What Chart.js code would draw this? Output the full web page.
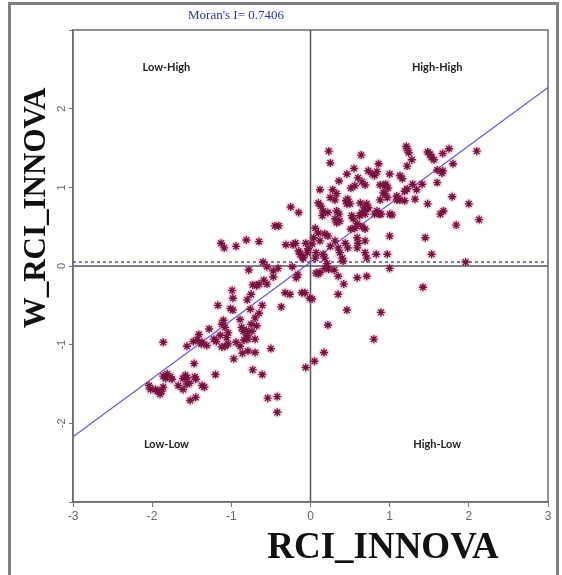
<!DOCTYPE html>
<html>
<head>
<meta charset="utf-8">
<script src="https://cdn.jsdelivr.net/npm/chart.js@4"></script>
<style>
html, body { margin: 0; padding: 0; background: #fff; }
#wrap { width: 562px; height: 575px; }
</style>
</head>
<body>
<div id="wrap"><canvas id="chart" width="562" height="575"></canvas></div>
<script>
// Moran scatter: RCI_INNOVA (x) vs spatial lag W_RCI_INNOVA (y), split by quadrant
const lowHigh = [
  [-0.25,0.75],[-0.15,0.68],[-0.45,0.51],[-0.40,0.51],[-1.13,0.29],[-1.09,0.23],[-0.94,0.25],
  [-0.81,0.33],[-0.65,0.31],[-0.31,0.27],[-0.22,0.27],[-0.19,0.29],[-0.06,0.29],[-0.04,0.17],
  [-0.10,0.11],[-0.60,0.05],[-0.13,0.15],[-0.15,0.19],[-0.09,0.10],[-0.03,0.22]
];
const lowLow = [
  [-0.55,-0.01],[-0.78,-0.05],[-0.41,-0.03],[-0.23,-0.01],[-0.47,-0.14],[-0.59,-0.18],[-0.65,-0.23],
  [-0.68,-0.25],[-0.73,-0.24],[-0.55,-0.23],[-0.18,-0.15],[-0.16,-0.11],[-0.99,-0.31],[-0.98,-0.41],
  [-0.75,-0.36],[-0.80,-0.43],[-0.32,-0.34],[-0.26,-0.36],[-0.07,-0.34],[-0.11,-0.34],[-0.01,-0.41],
  [-1.17,-0.50],[-1.01,-0.54],[-0.98,-0.56],[-0.61,-0.50],[-0.65,-0.60],[-0.37,-0.52],[-0.70,-0.66],
  [-0.76,-0.55],[-0.74,-0.83],[-1.10,-0.69],[-1.12,-0.74],[-1.08,-0.78],[-0.87,-0.78],[-0.85,-0.83],
  [-0.89,-0.68],[-0.81,-0.82],[-0.75,-0.74],[-0.68,-0.76],[-1.41,-0.87],[-1.43,-0.94],[-1.37,-0.97],
  [-1.31,-1.01],[-1.48,-0.96],[-1.56,-1.02],[-1.38,-0.99],[-1.22,-0.93],[-1.19,-0.96],[-1.28,-0.80],
  [-1.08,-1.02],[-1.04,-0.99],[-1.12,-1.03],[-1.14,-0.88],[-1.04,-0.85],[-1.06,-0.91],[-0.94,-0.97],
  [-0.89,-1.02],[-0.84,-0.94],[-0.79,-0.93],[-0.70,-0.93],[-0.80,-0.88],[-0.86,-1.11],[-0.79,-1.08],
  [-0.70,-1.10],[-0.97,-1.18],[-0.50,-1.05],[-1.86,-0.97],[-1.47,-1.24],[-1.20,-1.38],[-1.58,-1.39],
  [-1.61,-1.43],[-1.46,-1.41],[-1.56,-1.42],[-1.45,-1.44],[-1.56,-1.50],[-1.81,-1.37],[-1.77,-1.41],
  [-1.83,-1.43],[-1.75,-1.44],[-1.86,-1.40],[-1.67,-1.52],[-1.61,-1.57],[-1.53,-1.49],[-1.37,-1.52],
  [-1.34,-1.54],[-2.04,-1.52],[-2.02,-1.57],[-1.96,-1.57],[-1.93,-1.59],[-1.88,-1.59],[-1.86,-1.54],
  [-1.90,-1.63],[-1.52,-1.71],[-1.45,-1.67],[-0.73,-1.32],[-0.61,-1.38],[-0.54,-1.68],[-0.42,-1.66],
  [-0.42,-1.86],[-0.06,-1.29],[-0.47,-0.06]
];
const highHigh = [
  [0.23,1.46],[0.25,1.31],[0.64,1.41],[1.21,1.52],[1.22,1.49],[1.24,1.44],[1.28,1.35],[1.22,1.27],
  [1.48,1.45],[1.51,1.42],[1.53,1.38],[1.56,1.35],[1.67,1.43],[1.75,1.49],[2.10,1.46],[1.80,1.30],
  [1.60,1.22],[1.67,1.21],[1.66,1.18],[1.60,1.06],[0.86,1.30],[0.55,1.24],[0.46,1.17],[0.36,1.08],
  [0.73,1.21],[0.84,1.20],[0.81,1.15],[0.78,1.17],[1.00,1.17],[1.13,1.15],[1.16,1.11],[0.60,1.12],
  [0.65,1.07],[0.69,1.03],[0.56,1.02],[0.51,0.99],[0.95,1.04],[0.94,1.02],[0.98,0.99],[0.88,1.03],
  [1.22,0.98],[1.29,1.04],[1.34,0.97],[1.41,1.04],[0.12,0.97],[0.28,0.97],[0.33,0.92],[0.25,0.87],
  [0.31,0.84],[0.45,0.83],[0.47,0.85],[0.50,0.79],[0.46,0.79],[0.10,0.80],[0.13,0.76],[0.63,0.80],
  [0.71,0.79],[0.73,0.74],[0.68,0.74],[0.94,0.92],[0.97,0.87],[0.88,0.84],[0.92,0.93],[1.09,0.89],
  [1.13,0.84],[1.19,0.83],[1.32,0.85],[1.48,0.79],[1.79,0.88],[2.00,0.79],[1.64,0.66],[1.68,0.70],
  [2.13,0.59],[1.84,0.52],[0.84,0.70],[0.87,0.66],[0.81,0.66],[1.00,0.66],[0.65,0.68],[0.69,0.66],
  [0.62,0.64],[0.71,0.73],[0.33,0.70],[0.36,0.66],[0.31,0.60],[0.37,0.57],[0.33,0.55],[0.16,0.70],
  [0.22,0.68],[0.15,0.64],[0.52,0.64],[0.54,0.60],[0.59,0.54],[0.56,0.48],[0.51,0.47],[0.65,0.50],
  [0.69,0.47],[0.06,0.48],[0.10,0.42],[0.18,0.41],[0.22,0.38],[0.04,0.36],[0.12,0.32],[0.25,0.25],
  [0.31,0.32],[0.35,0.23],[0.44,0.29],[0.47,0.23],[0.59,0.36],[0.59,0.23],[0.60,0.29],[0.69,0.32],
  [1.00,0.38],[1.45,0.36],[1.53,0.15],[1.96,0.05],[0.69,0.17],[0.71,0.10],[0.83,0.15],[0.97,0.15],
  [0.37,0.17],[0.40,0.10],[0.41,0.06],[0.16,0.15],[0.18,0.10],[0.21,0.03],[0.07,0.17],[0.06,0.10],
  [0.02,0.28],[1.09,0.84],[1.19,0.95],[1.03,0.65],[0.89,0.66]
];
const highLow = [
  [0.23,-0.04],[0.18,-0.03],[1.00,-0.03],[0.71,-0.13],[0.35,-0.13],[0.42,-0.23],[0.35,-0.36],
  [0.07,-0.09],[0.10,-0.10],[1.42,-0.27],[0.59,-0.15],[0.02,-0.42],[0.46,-0.56],[0.89,-0.59],
  [0.80,-0.93],[0.22,-0.75],[0.17,-1.10],[0.05,-1.21],[0.30,-0.05],[0.12,-0.08]
];

const moranI = '0.7406';
const xTicks = [-3, -2, -1, 0, 1, 2, 3];
const yTickLabels = [-2, -1, 0, 1, 2];
const fitLine = [[-3, -2.17], [3, 2.27]];
const lagMean = 0.05;
const quadrants = [
  ['Low-High', -1.82, 2.52], ['High-High', 1.60, 2.52],
  ['Low-Low', -1.82, -2.27], ['High-Low', 1.60, -2.27]
];

const toXY = arr => arr.map(p => ({ x: p[0], y: p[1] }));
const allPoints = toXY([].concat(lowHigh, lowLow, highHigh, highLow));

const decor = {
  id: 'decor',
  beforeDraw(chart) {
    const ctx = chart.ctx;
    ctx.save();
    ctx.fillStyle = '#fff';
    ctx.fillRect(0, 0, chart.width, chart.height);
    // outer frame
    ctx.strokeStyle = '#808080';
    ctx.lineWidth = 3;
    ctx.beginPath();
    ctx.moveTo(9.5, 575); ctx.lineTo(9.5, 3.5); ctx.lineTo(557.5, 3.5); ctx.lineTo(557.5, 575);
    ctx.stroke();
    ctx.restore();
  },
  afterDraw(chart) {
    const ctx = chart.ctx;
    const xs = chart.scales.x, ys = chart.scales.y;
    const a = chart.chartArea;
    ctx.save();
    // plot box
    ctx.strokeStyle = '#6e6e6e';
    ctx.lineWidth = 1.5;
    ctx.strokeRect(a.left, a.top, a.right - a.left, a.bottom - a.top);

    // rotated y tick labels
    ctx.fillStyle = '#666';
    ctx.font = '11px "Liberation Sans", Arial, sans-serif';
    ctx.textAlign = 'center';
    ctx.textBaseline = 'middle';
    yTickLabels.forEach(v => {
      ctx.save();
      ctx.translate(a.left - 11, ys.getPixelForValue(v));
      ctx.rotate(-Math.PI / 2);
      ctx.fillText(String(v), 0, 0);
      ctx.restore();
    });

    // title
    ctx.fillStyle = '#2f2fb4';
    ctx.font = '13px "Liberation Serif", "Times New Roman", serif';
    ctx.fillText("Moran's I= " + moranI, 236, 16);

    // quadrant labels
    ctx.fillStyle = '#222';
    ctx.font = 'bold 11px Lato, "Open Sans", sans-serif';
    quadrants.forEach(q => {
      ctx.fillText(q[0], xs.getPixelForValue(q[1]), ys.getPixelForValue(q[2]));
    });

    // axis titles
    ctx.fillStyle = '#111';
    ctx.font = 'bold 37px "Liberation Serif", "Times New Roman", serif';
    ctx.fillText('RCI_INNOVA', 383, 548);
    ctx.save();
    ctx.translate(37, 208);
    ctx.rotate(-Math.PI / 2);
    ctx.font = 'bold 31px "Liberation Serif", "Times New Roman", serif';
    ctx.fillText('W_RCI_INNOVA', 0, 0);
    ctx.restore();
    ctx.restore();
  }
};

new Chart('chart', {
  type: 'scatter',
  data: {
    datasets: [
      {
        data: allPoints,
        pointStyle: 'star',
        pointRadius: 4,
        borderWidth: 1.4,
        borderColor: '#76113f',
        backgroundColor: '#76113f'
      },
      {
        data: allPoints,
        pointStyle: 'circle',
        pointRadius: 5.5,
        borderWidth: 0,
        backgroundColor: 'rgba(205, 110, 160, 0.22)'
      },
      {
        data: toXY(fitLine),
        showLine: true, pointRadius: 0,
        borderColor: '#5c5ce0', borderWidth: 1.2
      },
      {
        data: [{ x: -3, y: lagMean }, { x: 3, y: lagMean }],
        showLine: true, pointRadius: 0,
        borderColor: '#4a4ad6', borderWidth: 1.5, borderDash: [3, 3]
      },
      {
        data: [{ x: 0, y: -3 }, { x: 0, y: 3 }],
        showLine: true, pointRadius: 0,
        borderColor: '#555', borderWidth: 1.5
      },
      {
        data: [{ x: -3, y: 0 }, { x: 3, y: 0 }],
        showLine: true, pointRadius: 0,
        borderColor: '#555', borderWidth: 1.5
      }
    ]
  },
  options: {
    responsive: false,
    animation: false,
    layout: { padding: { left: 0, right: 14, top: 30, bottom: 43 } },
    plugins: { legend: { display: false }, tooltip: { enabled: false } },
    scales: {
      x: {
        type: 'linear', min: -3, max: 3,
        afterFit(scale) { scale.height = 30; },
        afterBuildTicks(scale) { scale.ticks = xTicks.map(v => ({ value: v })); },
        border: { display: true, color: '#6e6e6e', width: 1.5 },
        grid: { drawOnChartArea: false, drawTicks: true, tickLength: 5, color: '#777' },
        ticks: { color: '#666', padding: 2, font: { size: 12, family: '"Liberation Sans", Arial, sans-serif' } }
      },
      y: {
        type: 'linear', min: -3, max: 3,
        afterFit(scale) { scale.width = 73; },
        ticks: { display: false, stepSize: 1 },
        border: { display: true, color: '#6e6e6e', width: 1.5 },
        grid: { drawOnChartArea: false, drawTicks: true, tickLength: 4, color: '#777' }
      }
    }
  },
  plugins: [decor]
});
</script>
</body>
</html>
